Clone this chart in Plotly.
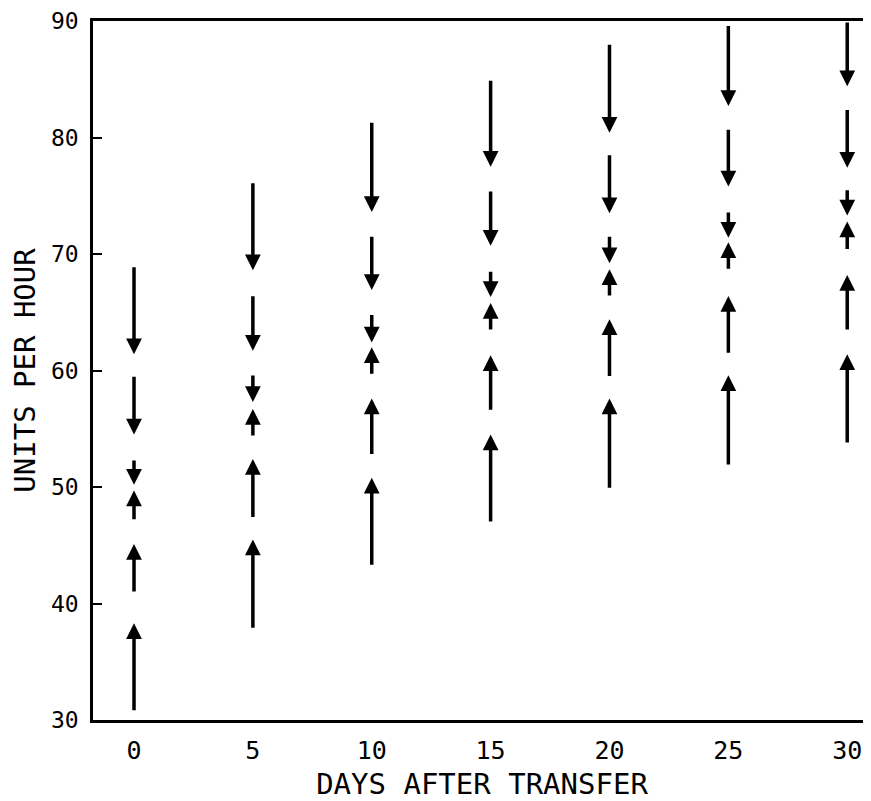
import plotly.graph_objects as go

days = [0, 5, 10, 15, 20, 25, 30]

# downward arrows: tail value -> head value
down1_start = [69.0, 76.2, 81.4, 85.0, 88.1, 89.7, 90.0]
down1_end = [61.4, 68.6, 73.6, 77.5, 80.4, 82.7, 84.4]
down2_start = [59.6, 66.5, 71.6, 75.5, 78.6, 80.8, 82.5]
down2_end = [54.5, 61.7, 66.9, 70.7, 73.5, 75.8, 77.4]
down3_start = [52.4, 59.7, 64.9, 68.6, 71.6, 73.7, 75.6]
down3_end = [50.2, 57.3, 62.4, 66.3, 69.2, 71.4, 73.3]

# upward arrows: tail value -> head value
up1_start = [47.1, 54.3, 59.6, 63.4, 66.3, 68.6, 70.3]
up1_end = [49.7, 56.7, 62.0, 65.8, 68.7, 71.0, 72.8]
up2_start = [40.9, 47.3, 52.7, 56.5, 59.4, 61.4, 63.4]
up2_end = [45.1, 52.4, 57.6, 61.3, 64.4, 66.4, 68.2]
up3_start = [30.7, 37.8, 43.2, 46.9, 49.8, 51.8, 53.7]
up3_end = [38.3, 45.5, 50.8, 54.5, 57.6, 59.6, 61.4]

x_ticks = [0, 5, 10, 15, 20, 25, 30]
y_ticks = [30, 40, 50, 60, 70, 80, 90]

pairs = [
    (down1_start, down1_end), (down2_start, down2_end), (down3_start, down3_end),
    (up1_start, up1_end), (up2_start, up2_end), (up3_start, up3_end),
]

FONT = "DejaVu Sans Mono"

fig = go.Figure()

# invisible anchor trace with all arrow endpoints
all_x, all_y = [], []
for s, e in pairs:
    all_x += days + days
    all_y += s + e
fig.add_trace(go.Scatter(x=all_x, y=all_y, mode="markers",
                         marker=dict(opacity=0, size=1), hoverinfo="skip",
                         showlegend=False))

annotations = []
for s, e in pairs:
    for d, y0, y1 in zip(days, s, e):
        annotations.append(dict(
            x=d, y=y1, ax=d, ay=y0, xref="x", yref="y", axref="x", ayref="y",
            text="", showarrow=True, arrowhead=2, arrowsize=0.9,
            arrowwidth=3.5, arrowcolor="black", standoff=0,
        ))

# page body has an 8px margin, so the figure is sized 8px smaller
fig.update_layout(
    width=863, height=793,
    margin=dict(l=85, r=0, t=13, b=81, autoexpand=False),
    paper_bgcolor="white", plot_bgcolor="white",
    font=dict(family=FONT, color="black", size=25),
    annotations=annotations,
    showlegend=False,
)

fig.update_xaxes(
    range=[-1.725, 31.0], tickvals=x_ticks, ticktext=[str(v) for v in x_ticks],
    showgrid=False, zeroline=False, showline=True, linecolor="black",
    linewidth=2.5, mirror=True, ticks="", automargin=False,
    ticklabeloverflow="allow",
    tickfont=dict(family=FONT, size=25), ticklabelstandoff=6,
    title=dict(text="DAYS AFTER TRANSFER", font=dict(family=FONT, size=29),
               standoff=11),
)
fig.update_yaxes(
    range=[30, 90], tickvals=y_ticks, ticktext=[str(v) for v in y_ticks],
    showgrid=False, zeroline=False, showline=True, linecolor="black",
    linewidth=2.5, mirror=False, ticks="inside", ticklen=9, tickwidth=1.5,
    tickcolor="black", automargin=False, ticklabeloverflow="allow",
    tickfont=dict(family=FONT, size=23), ticklabelstandoff=7,
    title=dict(text="UNITS PER HOUR", font=dict(family=FONT, size=29),
               standoff=12),
)

fig.write_html("out.html")
